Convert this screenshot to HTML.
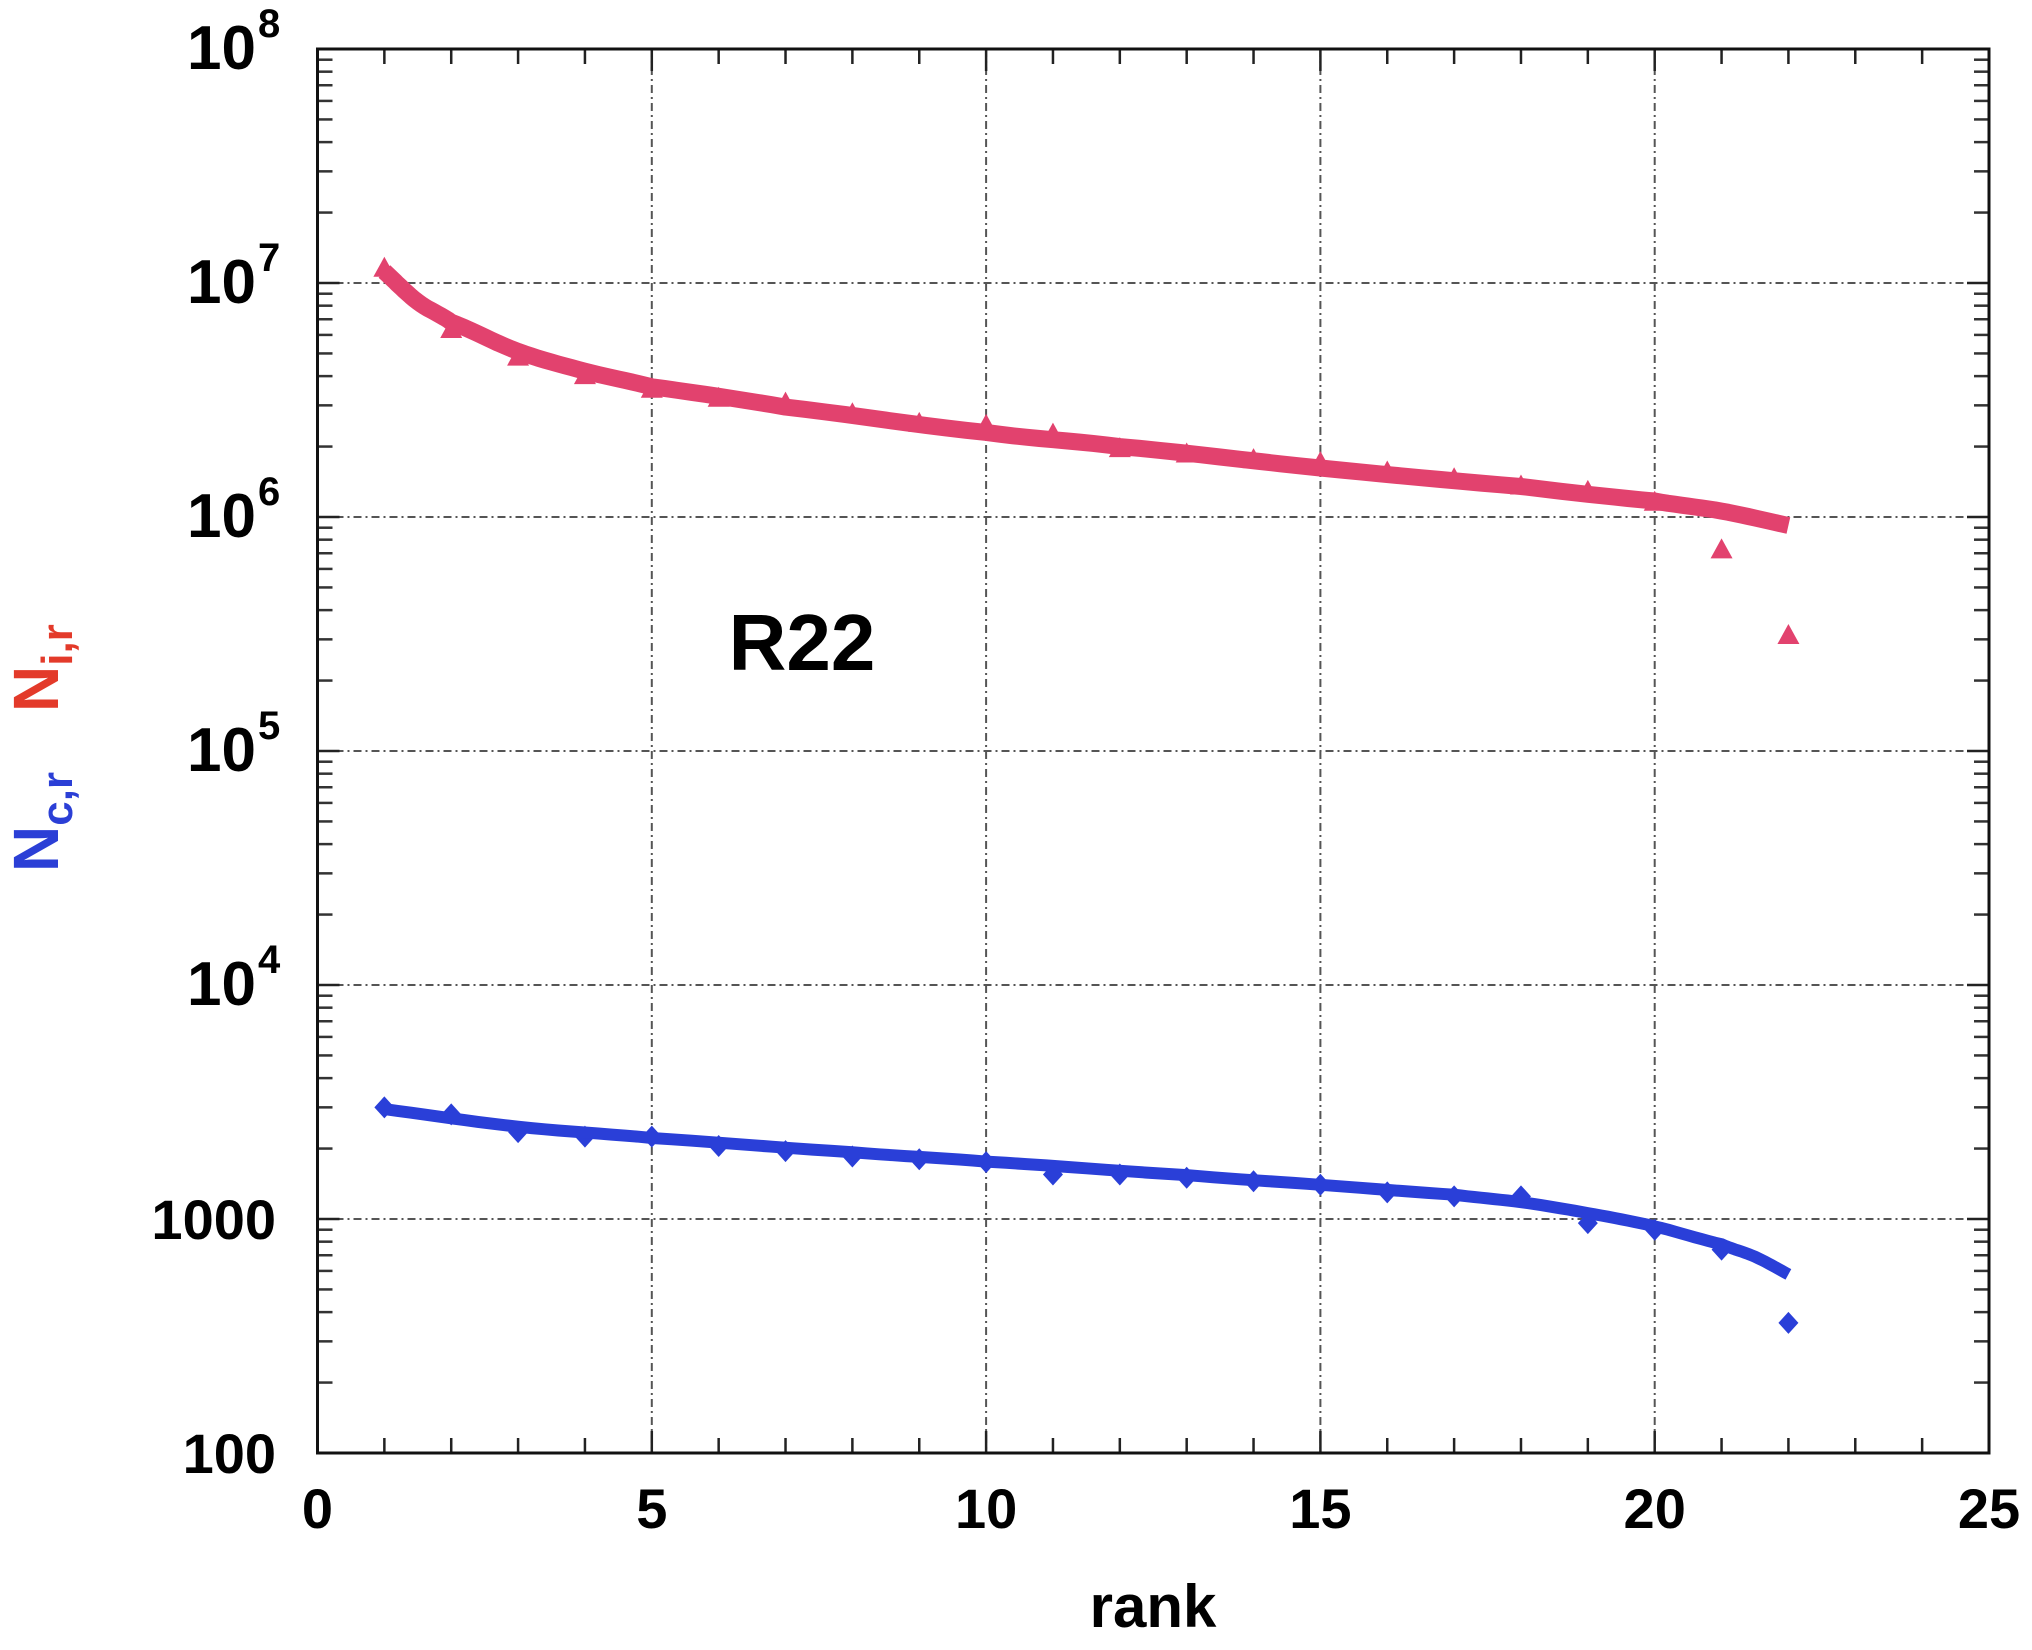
<!DOCTYPE html>
<html><head><meta charset="utf-8"><style>
html,body{margin:0;padding:0;background:#fff;}
svg{display:block;font-family:"Liberation Sans",Arial,sans-serif;font-weight:bold;}
</style></head><body>
<svg id="s" width="2032" height="1650" viewBox="0 0 2032 1650" xmlns="http://www.w3.org/2000/svg">
<g id="grid"></g>
<g id="ticks"></g>
<rect x="317.5" y="49" width="1671.5" height="1404" fill="none" stroke="#111" stroke-width="3"/>
<g id="series"></g>
<g id="labels" font-size="56" fill="#000"></g>
<text x="802" y="670" font-size="80" text-anchor="middle" fill="#000">R22</text>
<text x="1153" y="1627" font-size="60" text-anchor="middle" fill="#000">rank</text>
<g transform="translate(58,720) rotate(-90)">
<text x="-152" y="0" font-size="64" fill="#2b3fd6">N<tspan font-size="44" dy="14">c,r</tspan></text>
<text x="8" y="0" font-size="64" fill="#e33a2a">N<tspan font-size="44" dy="14">i,r</tspan></text>
</g>
</svg>
<script>
var L=317.5,R=1989,T=49,B=1453,D=(B-T)/6;
function X(v){return L+(R-L)*v/25;}
function Y(v){return B-(Math.log10(v)-2)*D;}
var ns="http://www.w3.org/2000/svg";
function el(p,t,a,txt){var e=document.createElementNS(ns,t);for(var k in a)e.setAttribute(k,a[k]);if(txt!==undefined)e.textContent=txt;document.getElementById(p).appendChild(e);return e;}
for(var i=1;i<5;i++){var x=X(i*5);el("grid","line",{x1:x,x2:x,y1:T,y2:B,stroke:"#555","stroke-width":2,"stroke-dasharray":"8,4,2,4"});}
for(var d=1;d<6;d++){var y=B-d*D;el("grid","line",{x1:L,x2:R,y1:y,y2:y,stroke:"#555","stroke-width":2,"stroke-dasharray":"8,4,2,4"});}
for(var i=1;i<25;i++){var x=X(i),len=(i%5==0)?22:15;el("ticks","line",{x1:x,x2:x,y1:B,y2:B-len,stroke:"#222","stroke-width":2.5});el("ticks","line",{x1:x,x2:x,y1:T,y2:T+len,stroke:"#222","stroke-width":2.5});}
for(var d=0;d<6;d++){for(var m=2;m<10;m++){var y=B-(d+Math.log10(m))*D;el("ticks","line",{x1:L,x2:L+15,y1:y,y2:y,stroke:"#333","stroke-width":2.5});el("ticks","line",{x1:R,x2:R-15,y1:y,y2:y,stroke:"#333","stroke-width":2.5});}
 el("ticks","line",{x1:L,x2:L+22,y1:B-d*D,y2:B-d*D,stroke:"#222","stroke-width":2.5});el("ticks","line",{x1:R,x2:R-22,y1:B-d*D,y2:B-d*D,stroke:"#222","stroke-width":2.5});}
for(var i=0;i<=25;i+=5){el("labels","text",{x:X(i),y:1528,"text-anchor":"middle"},String(i));}
el("labels","text",{x:276,y:B+20,"text-anchor":"end"},"100");
el("labels","text",{x:276,y:B-D+20,"text-anchor":"end"},"1000");
for(var d=4;d<=8;d++){var y=B-(d-2)*D+20;el("labels","text",{x:256,y:y,"text-anchor":"end","font-size":62},"10");el("labels","text",{x:258,y:y-32,"font-size":40},String(d));}
var pt=[1.15e7,6.3e6,4.8e6,4.0e6,3.5e6,3.2e6,3.05e6,2.75e6,2.5e6,2.45e6,2.25e6,1.95e6,1.85e6,1.75e6,1.7e6,1.55e6,1.45e6,1.35e6,1.28e6,1.15e6,0.72e6,0.31e6];
var pc=[[1,1.12e7],[1.5,8.3e6],[2,6.8e6],[3,5.1e6],[4,4.2e6],[5,3.6e6],[7,2.95e6],[10,2.3e6],[12,2.0e6],[15,1.62e6],[18,1.35e6],[20,1.17e6],[21,1.06e6],[22,0.92e6]];
var bt=[3000,2800,2350,2250,2250,2050,1950,1850,1800,1750,1550,1550,1500,1450,1400,1300,1250,1250,960,900,740,360];
var bc=[[1,2950],[3,2480],[5,2220],[8,1930],[10,1760],[13,1540],[15,1400],[17,1270],[18,1180],[19,1060],[20,930],[21,780],[21.5,690],[22,580]];
function path(c){var s="";for(var i=0;i<c.length;i++)s+=(i?"L":"M")+X(c[i][0]).toFixed(1)+","+Y(c[i][1]).toFixed(1);return s;}
function smooth(c){var o=[];for(var i=0;i<c.length-1;i++){for(var k=0;k<10;k++){var t=k/10;var a=Math.log10(c[i][1]),b=Math.log10(c[i+1][1]);var p0=i>0?Math.log10(c[i-1][1]):2*a-b,p3=i<c.length-2?Math.log10(c[i+2][1]):2*b-a;var t2=t*t,t3=t2*t;var v=0.5*((2*a)+(-p0+b)*t+(2*p0-5*a+4*b-p3)*t2+(-p0+3*a-3*b+p3)*t3);o.push([c[i][0]+(c[i+1][0]-c[i][0])*t,Math.pow(10,v)]);}}o.push(c[c.length-1]);return o;}
for(var i=0;i<22;i++){var x=X(i+1),y=Y(pt[i]);el("series","path",{d:"M"+x+","+(y-12)+"L"+(x+11)+","+(y+8)+"L"+(x-11)+","+(y+8)+"Z",fill:"#e2426e"});}
el("series","path",{d:path(smooth(pc)),fill:"none",stroke:"#e2426e","stroke-width":17,"stroke-linejoin":"round"});
for(var i=0;i<22;i++){var x=X(i+1),y=Y(bt[i]);el("series","path",{d:"M"+x+","+(y-11)+"L"+(x+10)+","+y+"L"+x+","+(y+11)+"L"+(x-10)+","+y+"Z",fill:"#2a3fd8"});}
el("series","path",{d:path(smooth(bc)),fill:"none",stroke:"#2a3fd8","stroke-width":12,"stroke-linejoin":"round"});
</script>
</body></html>
